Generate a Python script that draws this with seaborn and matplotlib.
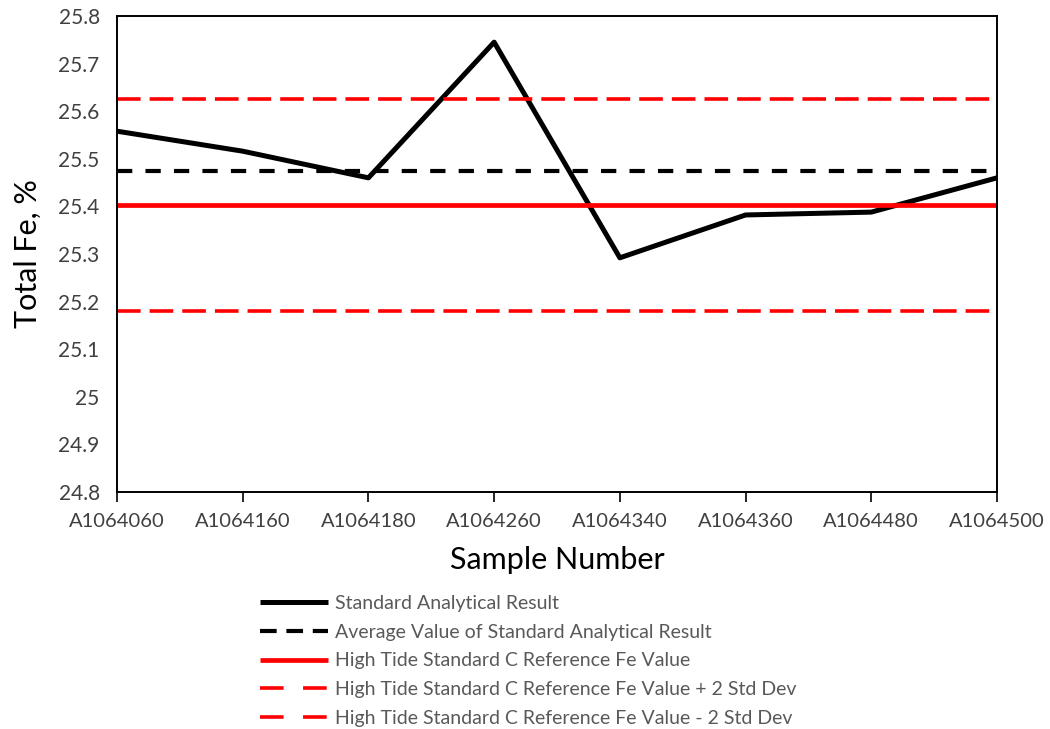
import matplotlib
matplotlib.use("Agg")
import matplotlib.pyplot as plt
import seaborn as sns
import numpy as np
import pandas as pd

samples = ["A1064060", "A1064160", "A1064180", "A1064260",
           "A1064340", "A1064360", "A1064480", "A1064500"]
results = [25.558, 25.516, 25.460, 25.745, 25.292, 25.382, 25.388, 25.460]
average_value = 25.475
reference_value = 25.403
ref_plus_2sd = 25.626
ref_minus_2sd = 25.180

labels = ["Standard Analytical Result",
          "Average Value of Standard Analytical Result",
          "High Tide Standard C Reference Fe Value",
          "High Tide Standard C Reference Fe Value + 2 Std Dev",
          "High Tide Standard C Reference Fe Value - 2 Std Dev"]

sns.set_style("white")
plt.rcParams['font.family'] = ['Lato', 'DejaVu Sans']

fig = plt.figure(figsize=(10.5, 7.29), dpi=100)
ax = fig.add_axes([117/1050, 1-492/729, (997-117)/1050, (492-16)/729])

x = np.arange(len(samples))
n = len(samples)

def dash(on, off, lw):
    return (0, (on/lw, off/lw))

sns.lineplot(x=x, y=results, ax=ax, color="black", lw=3.6, label=labels[0])
sns.lineplot(x=x, y=[average_value]*n, ax=ax, color="black", lw=3.0,
             linestyle=dash(11, 9.5, 3.0), label=labels[1])
sns.lineplot(x=x, y=[reference_value]*n, ax=ax, color="#ff0000", lw=3.4, label=labels[2])
sns.lineplot(x=x, y=[ref_plus_2sd]*n, ax=ax, color="#ff0000", lw=2.6,
             linestyle=dash(17, 6.5, 2.6), label=labels[3])
sns.lineplot(x=x, y=[ref_minus_2sd]*n, ax=ax, color="#ff0000", lw=2.6,
             linestyle=dash(17, 6.5, 2.6), label=labels[4])

for line in ax.get_lines():
    line.set_solid_capstyle("butt")

ax.set_xlim(0, n-1)
ax.set_ylim(24.8, 25.8)
yt = np.round(np.arange(24.8, 25.81, 0.1), 1)
ax.set_yticks(yt)
ax.set_yticklabels([("%g" % v) for v in yt])
ax.set_xticks(x)
ax.set_xticklabels(samples)

for s in ax.spines.values():
    s.set_visible(True)
    s.set_color("black")
    s.set_linewidth(1.4)

ax.tick_params(axis="x", which="both", bottom=True, length=7, width=1.2,
               color="black", labelsize=14.5, labelcolor="#404040", pad=8)
ax.tick_params(axis="y", left=False, labelsize=15, labelcolor="#404040", pad=9)

ax.set_xlabel("Sample Number", fontsize=22, color="black", labelpad=12)
ax.set_ylabel("Total Fe, %", fontsize=22, color="black", labelpad=12)

leg = ax.legend(loc="upper left", bbox_to_anchor=(260/1050, 1-595/729),
                bbox_transform=fig.transFigure, frameon=False, fontsize=14,
                handlelength=3.5, handletextpad=0.38, labelspacing=0.6,
                borderaxespad=0, borderpad=0)
for t in leg.get_texts():
    t.set_color("#595959")
handles = leg.get_lines()
handles[1].set_linestyle(dash(12, 7, 3.0))
handles[3].set_linestyle(dash(17, 14, 2.6))
handles[4].set_linestyle(dash(17, 14, 2.6))

fig.savefig("out.png", dpi=100)
